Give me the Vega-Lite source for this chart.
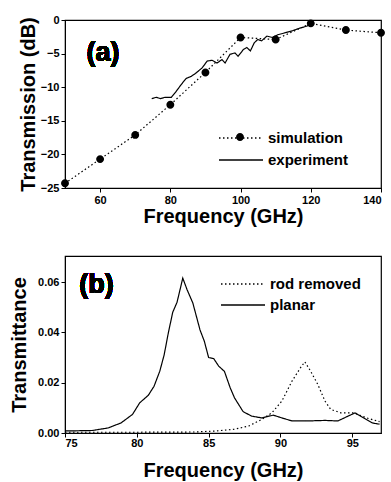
{
  "$schema": "https://vega.github.io/schema/vega-lite/v6.json",
  "background": "white",
  "padding": {"top": 13, "left": 8, "right": 8, "bottom": 2},
  "spacing": 28,
  "resolve": {"scale": {"strokeDash": "independent", "shape": "independent"}, "legend": {"strokeDash": "independent", "shape": "independent"}},
  "datasets": {
    "a": [
      {"f": 50, "v": -24.3, "series": "simulation"},
      {"f": 60, "v": -20.7, "series": "simulation"},
      {"f": 70, "v": -17.1, "series": "simulation"},
      {"f": 80, "v": -12.6, "series": "simulation"},
      {"f": 90, "v": -7.8, "series": "simulation"},
      {"f": 100, "v": -2.6, "series": "simulation"},
      {"f": 110, "v": -2.9, "series": "simulation"},
      {"f": 120, "v": -0.5, "series": "simulation"},
      {"f": 130, "v": -1.5, "series": "simulation"},
      {"f": 140, "v": -1.9, "series": "simulation"},
      {"f": 74.7, "v": -11.7, "series": "experiment"},
      {"f": 76.0, "v": -11.5, "series": "experiment"},
      {"f": 77.2, "v": -11.7, "series": "experiment"},
      {"f": 78.5, "v": -11.5, "series": "experiment"},
      {"f": 80.3, "v": -11.5, "series": "experiment"},
      {"f": 81.7, "v": -10.6, "series": "experiment"},
      {"f": 83.1, "v": -9.6, "series": "experiment"},
      {"f": 84.5, "v": -8.7, "series": "experiment"},
      {"f": 85.9, "v": -8.4, "series": "experiment"},
      {"f": 87.3, "v": -7.9, "series": "experiment"},
      {"f": 89.1, "v": -7.1, "series": "experiment"},
      {"f": 90.5, "v": -6.1, "series": "experiment"},
      {"f": 91.9, "v": -6.0, "series": "experiment"},
      {"f": 93.3, "v": -6.4, "series": "experiment"},
      {"f": 94.7, "v": -5.9, "series": "experiment"},
      {"f": 95.6, "v": -6.4, "series": "experiment"},
      {"f": 97.0, "v": -5.1, "series": "experiment"},
      {"f": 98.4, "v": -4.9, "series": "experiment"},
      {"f": 99.3, "v": -5.4, "series": "experiment"},
      {"f": 100.8, "v": -4.4, "series": "experiment"},
      {"f": 101.8, "v": -4.1, "series": "experiment"},
      {"f": 102.8, "v": -4.6, "series": "experiment"},
      {"f": 103.9, "v": -3.4, "series": "experiment"},
      {"f": 104.9, "v": -2.9, "series": "experiment"},
      {"f": 106.0, "v": -3.1, "series": "experiment"},
      {"f": 107.5, "v": -2.4, "series": "experiment"},
      {"f": 109.1, "v": -2.6, "series": "experiment"},
      {"f": 110.6, "v": -2.2, "series": "experiment"},
      {"f": 112.7, "v": -1.9, "series": "experiment"},
      {"f": 114.8, "v": -1.6, "series": "experiment"},
      {"f": 116.9, "v": -1.2, "series": "experiment"},
      {"f": 119.0, "v": -0.9, "series": "experiment"},
      {"f": 120.0, "v": -0.4, "series": "experiment"}
    ],
    "b": [
      {"f": 75.0, "v": 0.0008, "series": "planar"},
      {"f": 76.9, "v": 0.001, "series": "planar"},
      {"f": 78.0, "v": 0.002, "series": "planar"},
      {"f": 78.9, "v": 0.004, "series": "planar"},
      {"f": 79.7, "v": 0.0074, "series": "planar"},
      {"f": 80.2, "v": 0.012, "series": "planar"},
      {"f": 80.8, "v": 0.015, "series": "planar"},
      {"f": 81.2, "v": 0.0186, "series": "planar"},
      {"f": 81.6, "v": 0.0246, "series": "planar"},
      {"f": 81.9, "v": 0.031, "series": "planar"},
      {"f": 82.2, "v": 0.04, "series": "planar"},
      {"f": 82.5, "v": 0.048, "series": "planar"},
      {"f": 82.8, "v": 0.052, "series": "planar"},
      {"f": 83.2, "v": 0.0616, "series": "planar"},
      {"f": 83.5, "v": 0.057, "series": "planar"},
      {"f": 83.9, "v": 0.0517, "series": "planar"},
      {"f": 84.4, "v": 0.041, "series": "planar"},
      {"f": 84.7, "v": 0.0365, "series": "planar"},
      {"f": 85.0, "v": 0.030, "series": "planar"},
      {"f": 85.35, "v": 0.0296, "series": "planar"},
      {"f": 85.7, "v": 0.0266, "series": "planar"},
      {"f": 86.1, "v": 0.0245, "series": "planar"},
      {"f": 86.5, "v": 0.018, "series": "planar"},
      {"f": 86.8, "v": 0.014, "series": "planar"},
      {"f": 87.4, "v": 0.0085, "series": "planar"},
      {"f": 88.0, "v": 0.0067, "series": "planar"},
      {"f": 88.7, "v": 0.006, "series": "planar"},
      {"f": 89.5, "v": 0.0071, "series": "planar"},
      {"f": 90.1, "v": 0.006, "series": "planar"},
      {"f": 90.8, "v": 0.0048, "series": "planar"},
      {"f": 91.9, "v": 0.0048, "series": "planar"},
      {"f": 93.1, "v": 0.005, "series": "planar"},
      {"f": 94.0, "v": 0.0048, "series": "planar"},
      {"f": 94.7, "v": 0.0067, "series": "planar"},
      {"f": 95.2, "v": 0.008, "series": "planar"},
      {"f": 95.8, "v": 0.006, "series": "planar"},
      {"f": 96.4, "v": 0.004, "series": "planar"},
      {"f": 96.9, "v": 0.0035, "series": "planar"},
      {"f": 75.0, "v": 0.0003, "series": "rod removed"},
      {"f": 80.0, "v": 0.0003, "series": "rod removed"},
      {"f": 84.0, "v": 0.0004, "series": "rod removed"},
      {"f": 85.5, "v": 0.0008, "series": "rod removed"},
      {"f": 86.8, "v": 0.0015, "series": "rod removed"},
      {"f": 87.8, "v": 0.0028, "series": "rod removed"},
      {"f": 88.7, "v": 0.0054, "series": "rod removed"},
      {"f": 89.4, "v": 0.008, "series": "rod removed"},
      {"f": 90.1, "v": 0.0127, "series": "rod removed"},
      {"f": 90.8, "v": 0.0206, "series": "rod removed"},
      {"f": 91.4, "v": 0.026, "series": "rod removed"},
      {"f": 91.7, "v": 0.0283, "series": "rod removed"},
      {"f": 92.1, "v": 0.0246, "series": "rod removed"},
      {"f": 92.6, "v": 0.0193, "series": "rod removed"},
      {"f": 93.1, "v": 0.0127, "series": "rod removed"},
      {"f": 93.5, "v": 0.0094, "series": "rod removed"},
      {"f": 94.2, "v": 0.008, "series": "rod removed"},
      {"f": 95.1, "v": 0.008, "series": "rod removed"},
      {"f": 96.0, "v": 0.006, "series": "rod removed"},
      {"f": 96.9, "v": 0.0045, "series": "rod removed"}
    ]
  },
  "vconcat": [
    {
      "width": 316,
      "height": 168,
      "data": {"name": "a"},
      "layer": [
        {
          "mark": {"type": "line", "color": "black", "strokeWidth": 1.2, "clip": true},
          "encoding": {
            "x": {"field": "f", "type": "quantitative", "scale": {"domain": [50, 140], "nice": false},
              "axis": {"values": [60, 80, 100, 120, 140], "title": "Frequency (GHz)", "titlePadding": 1, "labelOverlap": false, "tickCount": 10}},
            "y": {"field": "v", "type": "quantitative", "scale": {"domain": [-25, 0], "nice": false},
              "axis": {"values": [0, -5, -10, -15, -20, -25], "title": "Transmission (dB)", "titlePadding": 2, "labelOverlap": false, "tickCount": 10}},
            "strokeDash": {"field": "series", "type": "nominal",
              "scale": {"domain": ["simulation", "experiment"], "range": [[1.5, 2.5], [1, 0]]},
              "legend": {
                "orient": "none", "legendX": 166, "legendY": 108, "title": null,
                "symbolType": "M-2.5,0L2.5,0", "symbolSize": 310, "labelOffset": 17, "rowPadding": 4,
                "encode": {"symbols": {"update": {
                  "size": {"value": 310},
                  "stroke": {"value": "black"},
                  "strokeWidth": {"value": 1.2},
                  "strokeOpacity": {"value": 1},
                  "opacity": {"value": 1}
                }}}
              }}
          }
        },
        {
          "transform": [{"filter": "datum.series === 'simulation'"}],
          "mark": {"type": "point", "filled": true, "color": "black", "size": 310, "opacity": 1, "strokeWidth": 0},
          "encoding": {
            "x": {"field": "f", "type": "quantitative"},
            "y": {"field": "v", "type": "quantitative"},
            "shape": {"datum": "simulation", "type": "nominal",
              "scale": {"domain": ["simulation"], "range": ["M-2.5,0L2.5,0M-0.45,0A0.45,0.45,0,1,1,0.45,0A0.45,0.45,0,1,1,-0.45,0Z"]},
              "legend": {
                "orient": "none", "legendX": 166, "legendY": 108, "title": null,
                "symbolSize": 310, "labelOffset": 17, "rowPadding": 4,
                "labelExpr": "''", "symbolFillColor": "black", "symbolStrokeWidth": 0,
                "symbolOpacity": 1
              }}
          }
        },
        {
          "mark": {"type": "text", "text": "(a)", "fontSize": 27, "fontWeight": "bold", "font": "Liberation Sans", "align": "center", "baseline": "middle"},
          "encoding": {"x": {"datum": 60.8}, "y": {"datum": -4.9}}
        }
      ]
    },
    {
      "width": 316,
      "height": 177,
      "data": {"name": "b"},
      "layer": [
        {
          "mark": {"type": "line", "color": "black", "strokeWidth": 1.2, "clip": true},
          "encoding": {
            "x": {"field": "f", "type": "quantitative", "scale": {"domain": [75, 97], "nice": false},
              "axis": {"values": [75, 80, 85, 90, 95], "title": "Frequency (GHz)", "titlePadding": 12, "labelPadding": 0, "labelOverlap": false, "tickCount": 10}},
            "y": {"field": "v", "type": "quantitative", "scale": {"domain": [0, 0.0704], "nice": false},
              "axis": {"values": [0, 0.02, 0.04, 0.06], "format": ".2f", "title": "Transmittance", "titlePadding": 8, "labelOverlap": false, "tickCount": 10}},
            "strokeDash": {"field": "series", "type": "nominal",
              "scale": {"domain": ["rod removed", "planar"], "range": [[1.5, 2.5], [1, 0]]},
              "legend": {
                "orient": "none", "legendX": 168, "legendY": 18, "title": null,
                "symbolType": "M-2.5,0L2.5,0", "symbolSize": 310, "labelOffset": 17, "rowPadding": 3,
                "encode": {"symbols": {"update": {
                  "size": {"value": 310},
                  "stroke": {"value": "black"},
                  "strokeWidth": {"value": 1.2},
                  "strokeOpacity": {"value": 1},
                  "opacity": {"value": 1}
                }}}
              }},
            "order": {"field": "f", "type": "quantitative"}
          }
        },
        {
          "mark": {"type": "text", "text": "(b)", "fontSize": 27, "fontWeight": "bold", "font": "Liberation Sans", "align": "center", "baseline": "middle"},
          "encoding": {"x": {"datum": 77.2}, "y": {"datum": 0.0587}}
        }
      ]
    }
  ],
  "config": {
    "view": {"stroke": "black", "strokeWidth": 1.2},
    "axis": {
      "grid": false, "domainColor": "black", "tickColor": "black", "labelColor": "black",
      "titleColor": "black", "labelFont": "Liberation Sans", "labelFontWeight": "bold",
      "labelFontSize": 11, "titleFont": "Liberation Sans", "titleFontWeight": "bold",
      "titleFontSize": 20, "tickSize": 4, "labelPadding": 2, "labelOverlap": false
    },
    "legend": {
      "labelFont": "Liberation Sans", "labelFontSize": 15, "labelFontWeight": "bold",
      "labelColor": "black", "padding": 0
    }
  }
}
